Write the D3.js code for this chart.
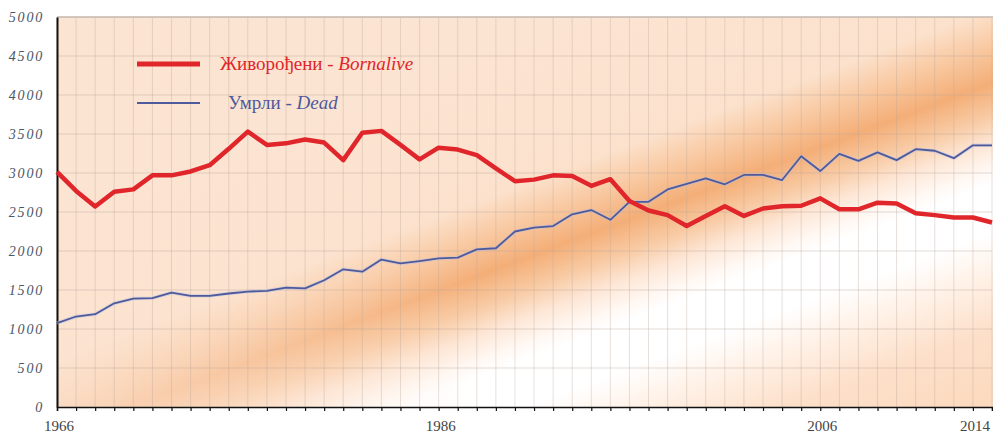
<!DOCTYPE html>
<html><head><meta charset="utf-8">
<script src="https://cdn.jsdelivr.net/npm/d3@7"></script>
<style>html,body{margin:0;padding:0;background:#fff;}svg{display:block;}</style>
</head><body>
<svg id="chart" width="993" height="434"></svg>
<script>
const years = d3.range(1966, 2016);
const births = [3015,2770,2570,2760,2790,2970,2970,3020,3100,3310,3530,3360,3380,3430,3390,3165,3515,3540,3360,3175,3325,3300,3230,3060,2895,2915,2970,2960,2835,2920,2640,2520,2460,2320,2450,2575,2450,2545,2575,2580,2675,2535,2535,2620,2610,2485,2460,2430,2430,2365];
const deaths = [1075,1160,1190,1330,1390,1395,1465,1425,1425,1455,1480,1490,1530,1520,1625,1765,1735,1890,1840,1870,1905,1915,2020,2035,2250,2300,2320,2470,2525,2400,2630,2630,2790,2860,2930,2855,2975,2975,2910,3215,3025,3245,3155,3265,3165,3305,3285,3190,3355,3355];
const yTicks = [0,500,1000,1500,2000,2500,3000,3500,4000,4500,5000];
const xLabels = [1966,1986,2006,2014];
const legendItems = [
  {ru:"Живорођени - ", en:"Bornalive", color:"#e0262a", width:5},
  {ru:"Умрли - ", en:"Dead", color:"#4d5a9c", width:2}
];

const svg = d3.select("#chart");
const L = 57, R = 992, T = 17, B = 407;
const x = d3.scaleLinear().domain([1966, 2015]).range([L, R]);
const y = d3.scaleLinear().domain([0, 5000]).range([B, T]);

const defs = svg.append("defs");
// diagonal band gradient (perpendicular to band direction)
const g1 = defs.append("linearGradient").attr("id","band").attr("gradientUnits","userSpaceOnUse")
  .attr("x1",529.8).attr("y1",42.8).attr("x2",722.9).attr("y2",557.6);
[[0,"#fce4d2"],[0.236,"#fce2cd"],[0.295,"#f9cba5"],[0.364,"#f4ae77"],[0.418,"#f8caa3"],[0.464,"#fde6d5"],[0.509,"#fff8f3"],[0.536,"#ffffff"],[0.618,"#ffffff"],[0.691,"#fff1e6"],[0.782,"#fde0ca"],[1,"#fbd5b5"]]
  .forEach(s => g1.append("stop").attr("offset",s[0]).attr("stop-color",s[1]));
const g2 = defs.append("linearGradient").attr("id","fade").attr("x1",0).attr("y1",0).attr("x2",1).attr("y2",0);
[[0,"#fce4d2",0.75],[0.2,"#fce4d2",0.45],[0.45,"#fce4d2",0.0],[1,"#fce4d2",0]]
  .forEach(s => g2.append("stop").attr("offset",s[0]).attr("stop-color",s[1]).attr("stop-opacity",s[2]));

svg.append("rect").attr("x",L).attr("y",T).attr("width",R-L+1).attr("height",B-T).attr("fill","url(#band)");
svg.append("rect").attr("x",L).attr("y",T).attr("width",R-L+1).attr("height",B-T).attr("fill","url(#fade)");

// grid
svg.append("g").selectAll("line").data(years).join("line")
  .attr("x1",d=>x(d)).attr("x2",d=>x(d)).attr("y1",T).attr("y2",B)
  .attr("stroke","#b8a79c").attr("stroke-opacity",0.35).attr("stroke-width",1);
svg.append("g").selectAll("line").data(yTicks.slice(1)).join("line")
  .attr("x1",L).attr("x2",R).attr("y1",d=>y(d)).attr("y2",d=>y(d))
  .attr("stroke","#b8a79c").attr("stroke-opacity",0.4).attr("stroke-width",1);
svg.append("line").attr("x1",L).attr("x2",R+1).attr("y1",T).attr("y2",T).attr("stroke","#c9bdb5").attr("stroke-width",1.5);

// axes
const xAxis = d3.axisBottom(x).tickValues(years).tickSize(4).tickFormat("");
const gx = svg.append("g").attr("transform",`translate(0,${B})`).call(xAxis);
gx.select(".domain").attr("stroke","#111").attr("stroke-width",1.5);
gx.selectAll(".tick line").attr("stroke","#111").attr("stroke-width",1.2);
svg.append("g").selectAll("text").data(xLabels).join("text")
  .attr("x",d=>x(d)+2).attr("y",431).attr("text-anchor","middle")
  .attr("font-family","Liberation Serif").attr("font-size",15).attr("fill","#444").text(d=>d);

const yAxis = d3.axisLeft(y).tickValues(yTicks).tickSize(0).tickFormat("");
const gy = svg.append("g").attr("transform",`translate(${L},0)`).call(yAxis);
gy.select(".domain").attr("stroke","#111").attr("stroke-width",2);
svg.append("g").selectAll("text").data(yTicks).join("text")
  .attr("x",44).attr("y",d=>y(d)+4.5).attr("text-anchor","end")
  .attr("font-family","Liberation Serif").attr("font-style","italic").attr("font-size",14)
  .attr("letter-spacing",1.8).attr("fill","#4c5566").text(d=>d);

// lines
const line = d3.line().x((d,i)=>x(years[i])).y(d=>y(d));
svg.append("path").datum(deaths).attr("d",line).attr("fill","none")
  .attr("stroke","#b9bde0").attr("stroke-width",3.5).attr("stroke-opacity",0.5).attr("stroke-linejoin","round");
svg.append("path").datum(deaths).attr("d",line).attr("fill","none")
  .attr("stroke","#4d5a9c").attr("stroke-width",1.8).attr("stroke-linejoin","round");
svg.append("path").datum(births).attr("d",line).attr("fill","none")
  .attr("stroke","#e0262a").attr("stroke-width",4.5).attr("stroke-linejoin","round");

// legend
const lg = svg.append("g");
legendItems.forEach((it,i)=>{
  const ly = 64 + i*39;
  lg.append("line").attr("x1",137).attr("x2",200).attr("y1",ly).attr("y2",ly)
    .attr("stroke",it.color).attr("stroke-width",it.width);
  const t = lg.append("text").attr("x", i===0 ? 220 : 228).attr("y",ly+6)
    .attr("font-family","Liberation Serif").attr("font-size",19).attr("fill",it.color);
  t.append("tspan").text(it.ru);
  t.append("tspan").attr("font-style","italic").text(it.en);
});
</script>
</body></html>
